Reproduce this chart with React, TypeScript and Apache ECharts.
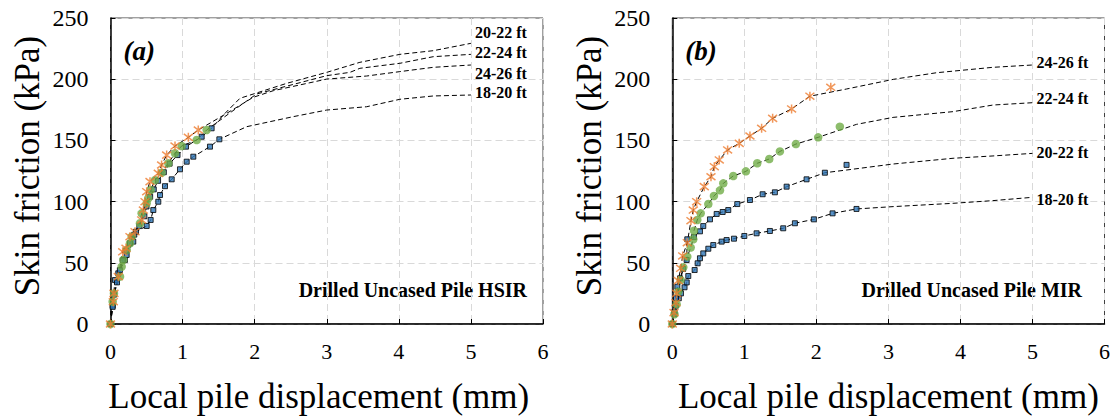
import { useEffect, useRef } from 'react';
import * as echarts from 'echarts';

type Pt = [number, number];

const FONT = "'Times New Roman', 'Liberation Serif', serif";

const DEPTHS = ['18-20 ft', '20-22 ft', '22-24 ft', '24-26 ft'];

// ---- Panel (a): Drilled Uncased Pile HSIR ----
const HSIR_18_20: Pt[] = [
  [0, 0], [0.03, 15], [0.062, 35.9], [0.108, 41.4], [0.2, 52.3], [0.224, 56.4], [0.316, 67.3],
  [0.354, 75.4], [0.502, 80.1], [0.557, 85], [0.594, 93.1], [0.663, 99.9], [0.687, 105.4],
  [0.756, 112.6], [0.849, 118.2], [0.964, 126.4], [1.057, 132.6], [1.149, 136.7], [1.38, 144.9],
  [1.51, 150.9],
];
const HSIR_18_20_TAIL: Pt[] = [
  [1.889, 161.2], [2.535, 169.4], [3.0, 174.8], [3.553, 177.5], [4.015, 183.6], [4.478, 186.3], [5.0, 187.1],
];
const HSIR_20_22: Pt[] = [
  [0, 0], [0.03, 14], [0.05, 24], [0.09, 34], [0.13, 44], [0.17, 52], [0.22, 60], [0.27, 66],
  [0.33, 73], [0.4, 80], [0.47, 88], [0.5, 96], [0.55, 104], [0.6, 110], [0.66, 117], [0.74, 124],
  [0.82, 131], [0.93, 138], [1.047, 144.9], [1.265, 153], [1.403, 159.9],
];
const HSIR_20_22_TAIL: Pt[] = [
  [1.57, 171], [1.796, 184.4], [2.444, 196.6], [3.0, 205.6], [3.46, 213.8], [4.015, 220.3], [4.478, 223.3], [5.0, 229.3],
];
const HSIR_22_24: Pt[] = [
  [0, 0], [0.03, 18.2], [0.048, 25], [0.132, 38.7], [0.155, 46.8], [0.178, 52.3], [0.225, 60.5],
  [0.27, 65.9], [0.294, 71.3], [0.409, 82.3], [0.432, 90.4], [0.502, 98.6], [0.524, 102.7],
  [0.558, 109.5], [0.617, 117.6], [0.71, 123.6], [0.802, 131.3], [0.895, 139.5], [0.987, 145.4],
  [1.196, 150.3], [1.334, 158.5],
];
const HSIR_22_24_TAIL: Pt[] = [
  [1.681, 173.5], [2.027, 187.9], [3.0, 202.9], [3.322, 205.6], [3.46, 208.9], [4.015, 213], [4.478, 218.4], [5.0, 220.3],
];
const HSIR_24_26: Pt[] = [
  [0, 0], [0.039, 18.2], [0.048, 25], [0.108, 38.7], [0.169, 59], [0.215, 61.8], [0.27, 71.3],
  [0.34, 75.4], [0.432, 85], [0.456, 93.1], [0.479, 99.9], [0.502, 108.1], [0.548, 116.3],
  [0.663, 123.1], [0.709, 129.9], [0.779, 138], [0.895, 145.4], [1.08, 152.5], [1.218, 158.5],
];
const HSIR_24_26_TAIL: Pt[] = [
  [1.612, 172.1], [1.98, 185.2], [2.258, 190.6], [3.0, 200.1], [3.553, 202.6], [4.015, 206.2], [4.478, 209.7], [5.0, 211.6],
];

// ---- Panel (b): Drilled Uncased Pile MIR ----
const MIR_18_20: Pt[] = [
  [0, 0], [0.03, 8], [0.05, 15], [0.09, 21], [0.12, 25], [0.17, 30], [0.2, 34], [0.222, 39.2],
  [0.31, 44.1], [0.352, 49.6], [0.384, 53.7], [0.43, 57.7], [0.5, 61.5], [0.569, 64.5],
  [0.685, 67.3], [0.754, 68.6], [0.856, 69.7], [1.0, 71.9], [1.17, 74.1], [1.355, 76],
  [1.54, 78.2], [1.702, 82.3], [1.965, 85.5], [2.225, 90.4], [2.557, 94],
];
const MIR_18_20_TAIL: Pt[] = [
  [3.065, 95.9], [3.898, 98.6], [4.452, 100.8], [5.0, 103.5],
];
const MIR_20_22: Pt[] = [
  [0, 0], [0.03, 10], [0.051, 21], [0.07, 30.5], [0.107, 37.3], [0.15, 45], [0.199, 52.3],
  [0.208, 69.2], [0.3, 71], [0.384, 75.7], [0.43, 80], [0.523, 85.5], [0.616, 89.9], [0.699, 91.5],
  [0.777, 93.1], [0.902, 98], [1.078, 101.3], [1.254, 106], [1.424, 107.6], [1.587, 112.2],
  [1.864, 118.2], [2.118, 123.6], [2.419, 130],
];
const MIR_20_22_TAIL: Pt[] = [
  [2.419, 125.8], [3.065, 130.7], [3.898, 135.4], [4.452, 137.3], [5.0, 139.4],
];
const MIR_22_24: Pt[] = [
  [0, 0], [0.03, 8], [0.06, 16.1], [0.083, 26.4], [0.116, 36], [0.153, 46.3], [0.208, 55],
  [0.255, 62.4], [0.291, 69.2], [0.301, 76.2], [0.347, 85], [0.394, 90.4], [0.5, 98],
  [0.578, 104.6], [0.662, 109.2], [0.708, 114.9], [0.846, 120.9], [1.022, 124.7], [1.179, 131.3],
  [1.346, 134.8], [1.494, 141], [1.716, 147], [2.025, 152.5], [2.326, 161.2],
];
const MIR_22_24_TAIL: Pt[] = [
  [2.557, 163.1], [3.065, 168.8], [3.898, 173.5], [4.452, 178.9], [5.0, 180.8],
];
const MIR_24_26: Pt[] = [
  [0, 0], [0.024, 9.3], [0.05, 17.4], [0.06, 25], [0.083, 35.4], [0.116, 45.5], [0.144, 55.6],
  [0.208, 66.4], [0.259, 84.4], [0.291, 93.1], [0.338, 99.9], [0.444, 112.2], [0.537, 120.3],
  [0.583, 128.5], [0.652, 134], [0.768, 142.2], [0.929, 147.6], [1.078, 153.6], [1.24, 159.9],
  [1.393, 168], [1.656, 175.7], [1.91, 186.1], [2.2, 193.4],
];
const MIR_24_26_TAIL: Pt[] = [
  [2.42, 192], [3.07, 199.9], [3.67, 205.3], [4.45, 209.7], [5.0, 211.6],
];

// Per panel: measured points, dashed trend continuation, and how many measured points the trend passes through
const PANELS = [
  {
    marks: [HSIR_18_20, HSIR_20_22, HSIR_22_24, HSIR_24_26],
    tails: [HSIR_18_20_TAIL, HSIR_20_22_TAIL, HSIR_22_24_TAIL, HSIR_24_26_TAIL],
    through: [HSIR_18_20.length, HSIR_20_22.length, HSIR_22_24.length, HSIR_24_26.length],
    title: 'Drilled Uncased Pile HSIR',
    tag: '(a)',
  },
  {
    marks: [MIR_18_20, MIR_20_22, MIR_22_24, MIR_24_26],
    tails: [MIR_18_20_TAIL, MIR_20_22_TAIL, MIR_22_24_TAIL, MIR_24_26_TAIL],
    through: [MIR_18_20.length, MIR_20_22.length - 1, MIR_22_24.length - 1, MIR_24_26.length - 1],
    title: 'Drilled Uncased Pile MIR',
    tag: '(b)',
  },
];

// ---- layout & styling ----
const GRIDS = [
  { left: 110.5, top: 18, width: 432.5, height: 306 },
  { left: 672.3, top: 18, width: 432.2, height: 306 },
];
const END_LABEL_DY = [
  [-2.6, -10.5, -1.5, 8.4],
  [1.7, -0.6, -4.6, -3],
];
const STAR = 'path://M0,0L10,10M10,0L0,10M5,-1.5L5,11.5';
const MARKER_STYLES = [
  { symbol: 'rect', symbolSize: 5, itemStyle: { color: '#2E75B6', borderColor: '#000', borderWidth: 1 } },
  { symbol: 'rect', symbolSize: 5, itemStyle: { color: '#2E75B6', borderColor: '#000', borderWidth: 1 } },
  { symbol: 'circle', symbolSize: 8.5, itemStyle: { color: '#70AD47' } },
  { symbol: STAR, symbolSize: 9, itemStyle: { color: 'rgba(0,0,0,0)', borderColor: '#ED7D31', borderWidth: 1.5 } },
];

function buildOption() {
  const xAxis: any[] = [];
  const yAxis: any[] = [];
  const series: any[] = [];
  const graphic: any[] = [];

  PANELS.forEach((panel, p) => {
    xAxis.push({
      gridIndex: p,
      type: 'value',
      min: 0,
      max: 6,
      interval: 1,
      axisLine: { show: true, lineStyle: { color: '#000', width: 1.5 } },
      axisTick: { show: true, inside: true, length: 5, lineStyle: { color: '#000' } },
      axisLabel: { color: '#000', fontFamily: FONT, fontSize: 22, margin: 16 },
      splitLine: { show: true, lineStyle: { color: '#d9d9d9', width: 1, type: [7, 4] } },
    });
    yAxis.push({
      gridIndex: p,
      type: 'value',
      min: 0,
      max: 250,
      interval: 50,
      axisLine: { show: true, lineStyle: { color: '#000', width: 1.5 } },
      axisTick: { show: true, inside: true, length: 5, lineStyle: { color: '#000' } },
      axisLabel: { color: '#000', fontFamily: FONT, fontSize: 24, margin: 22 },
      splitLine: { show: true, lineStyle: { color: '#d9d9d9', width: 1, type: [7, 4] } },
    });

    // dashed trend lines
    panel.marks.forEach((marks, i) => {
      const lineData = [...marks.slice(0, panel.through[i]), ...panel.tails[i]];
      series.push({
        type: 'line',
        xAxisIndex: p,
        yAxisIndex: p,
        data: lineData,
        symbol: 'none',
        silent: true,
        z: 2,
        lineStyle: { color: '#000', width: 1, type: [5, 3] },
        endLabel: {
          show: true,
          formatter: DEPTHS[i],
          color: '#000',
          fontFamily: FONT,
          fontWeight: 'bold',
          fontSize: 16,
          distance: 4,
          offset: [0, END_LABEL_DY[p][i]],
        },
      });
    });

    // measured points
    panel.marks.forEach((marks, i) => {
      series.push({
        type: 'scatter',
        xAxisIndex: p,
        yAxisIndex: p,
        data: marks,
        z: 3 + i,
        clip: false,
        ...MARKER_STYLES[i],
      });
    });

    const g = GRIDS[p];
    const cx = g.left + g.width / 2;
    graphic.push(
      {
        type: 'text',
        x: p === 0 ? 27.5 : 589,
        y: 166,
        rotation: Math.PI / 2,
        style: {
          text: 'Skin friction (kPa)',
          font: `35px ${FONT}`,
          fill: '#000',
          align: 'center',
          verticalAlign: 'middle',
          textAlign: 'center',
          textVerticalAlign: 'middle',
        },
      },
      {
        type: 'text',
        x: p === 0 ? cx - 8 : cx,
        y: 396,
        style: {
          text: 'Local pile displacement (mm)',
          font: `35px ${FONT}`,
          fill: '#000',
          align: 'center',
          verticalAlign: 'middle',
          textAlign: 'center',
          textVerticalAlign: 'middle',
        },
      },
      {
        type: 'text',
        x: g.left + 13,
        y: 51,
        style: {
          text: panel.tag,
          font: `italic bold 27px ${FONT}`,
          fill: '#000',
          align: 'left',
          verticalAlign: 'middle',
          textAlign: 'left',
          textVerticalAlign: 'middle',
        },
      },
      {
        type: 'text',
        x: p === 0 ? 527 : 1082,
        y: 290,
        style: {
          text: panel.title,
          font: `bold 20px ${FONT}`,
          fill: '#000',
          align: 'right',
          verticalAlign: 'middle',
          textAlign: 'right',
          textVerticalAlign: 'middle',
        },
      }
    );
  });

  return {
    animation: false,
    backgroundColor: '#fff',
    grid: GRIDS.map((g) => ({
      ...g,
      show: true,
      borderColor: '#404040',
      borderWidth: 1,
      backgroundColor: 'transparent',
      containLabel: false,
    })),
    xAxis,
    yAxis,
    series,
    graphic,
  };
}

export default function App() {
  const ref = useRef<HTMLDivElement>(null);

  useEffect(() => {
    if (!ref.current) return;
    const chart = echarts.init(ref.current, undefined, { renderer: 'svg' });
    chart.setOption(buildOption() as any);
    return () => chart.dispose();
  }, []);

  return (
    <div
      ref={ref}
      style={{ position: 'fixed', left: 0, top: 0, width: 1116, height: 419, background: '#fff' }}
    />
  );
}
